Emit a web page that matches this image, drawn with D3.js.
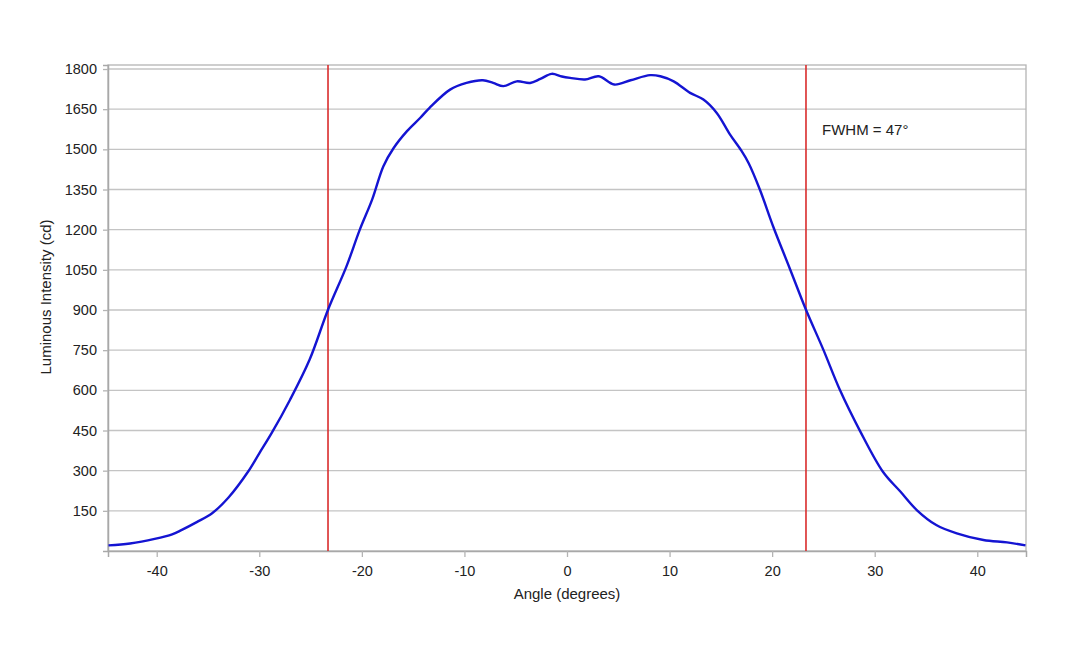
<!DOCTYPE html>
<html><head><meta charset="utf-8">
<script src="https://cdn.jsdelivr.net/npm/d3@7"></script>
<style>body{margin:0;background:#fff;} text{font-family:"Liberation Sans",Arial,sans-serif;}</style>
</head><body>
<svg id="c" width="1080" height="648"></svg>
<script>
const angles = [-44.7,-42.6,-40.2,-38.5,-37.6,-36.1,-34.6,-33.0,-31.1,-30.0,-28.8,-27.0,-25.1,-23.3,-21.5,-20.2,-19.0,-17.9,-16.9,-15.6,-14.3,-13.4,-11.4,-9.8,-8.2,-7.2,-6.2,-4.9,-3.6,-2.6,-1.5,-0.5,0.3,1.75,3.1,4.6,6.2,8.1,9.1,10.4,12.0,13.3,14.6,15.9,17.0,17.7,18.8,20.1,21.7,23.3,25.0,26.6,28.6,30.8,32.5,34.1,36.0,38.0,40.6,42.9,44.7];
const intensity = [21,28,45,62,78,108,141,200,296,365,440,565,714,901,1063,1200,1312,1437,1505,1568,1618,1655,1723,1748,1758,1748,1736,1754,1748,1763,1782,1772,1767,1761,1773,1742,1758,1777,1773,1754,1711,1686,1636,1555,1495,1449,1350,1212,1057,901,751,602,446,296,222,153,97,66,41,32,21];
const xTicks = [-40,-30,-20,-10,0,10,20,30,40];
const yTicks = [150,300,450,600,750,900,1050,1200,1350,1500,1650,1800];
const fwhmLines = [-23.3, 23.3];
const annotation = "FWHM = 47°";

const svg = d3.select("#c");
const L=108, R=1026, T=65, B=551;
const x = d3.scaleLinear().domain([-44.75,44.75]).range([L,R]);
const y = d3.scaleLinear().domain([0,1815]).range([B,T]);
const FS = "14.5px", FS2 = "15px";

svg.append("g").selectAll("line").data(yTicks).join("line")
  .attr("x1",L).attr("x2",R).attr("y1",d=>y(d)).attr("y2",d=>y(d))
  .attr("stroke","#c4c4c4").attr("stroke-width",1.3);

svg.append("rect").attr("x",L).attr("y",T).attr("width",R-L).attr("height",B-T)
  .attr("fill","none").attr("stroke","#b4b4b4").attr("stroke-width",1.3);

const ya = svg.append("g").attr("transform",`translate(${L},0)`)
  .call(d3.axisLeft(y).tickValues(yTicks).tickFormat(d=>String(d)).tickSize(5).tickPadding(6));
const xa = svg.append("g").attr("transform",`translate(0,${B})`)
  .call(d3.axisBottom(x).tickValues(xTicks).tickFormat(d=>String(d)).tickSize(6).tickPadding(9));
[ya,xa].forEach(g=>{
  g.select(".domain").attr("stroke","#a8a8a8").attr("stroke-width",1.5);
  g.selectAll(".tick line").attr("stroke","#b4b4b4").attr("stroke-width",1.3);
  g.selectAll(".tick text").attr("fill","#222").style("font-size",FS).style("font-family","'Liberation Sans',Arial,sans-serif");
});

svg.append("g").selectAll("line").data(fwhmLines).join("line")
  .attr("x1",d=>x(d)).attr("x2",d=>x(d)).attr("y1",T).attr("y2",B)
  .attr("stroke","#d92c2c").attr("stroke-width",1.6);

const pts = angles.map((a,i)=>[a,intensity[i]]);
svg.append("path").datum(pts)
  .attr("d", d3.line().x(d=>x(d[0])).y(d=>y(d[1])).curve(d3.curveCatmullRom.alpha(0.5)))
  .attr("fill","none").attr("stroke","#1414d2").attr("stroke-width",2.4);

svg.append("text").attr("x",822).attr("y",135).text(annotation)
  .attr("fill","#222").style("font-size",FS2);

svg.append("text").attr("x",(L+R)/2).attr("y",599).attr("text-anchor","middle")
  .text("Angle (degrees)").attr("fill","#222").style("font-size",FS2);
svg.append("text").attr("transform",`translate(51,297) rotate(-90)`).attr("text-anchor","middle")
  .text("Luminous Intensity (cd)").attr("fill","#222").style("font-size",FS2);
</script>
</body></html>
